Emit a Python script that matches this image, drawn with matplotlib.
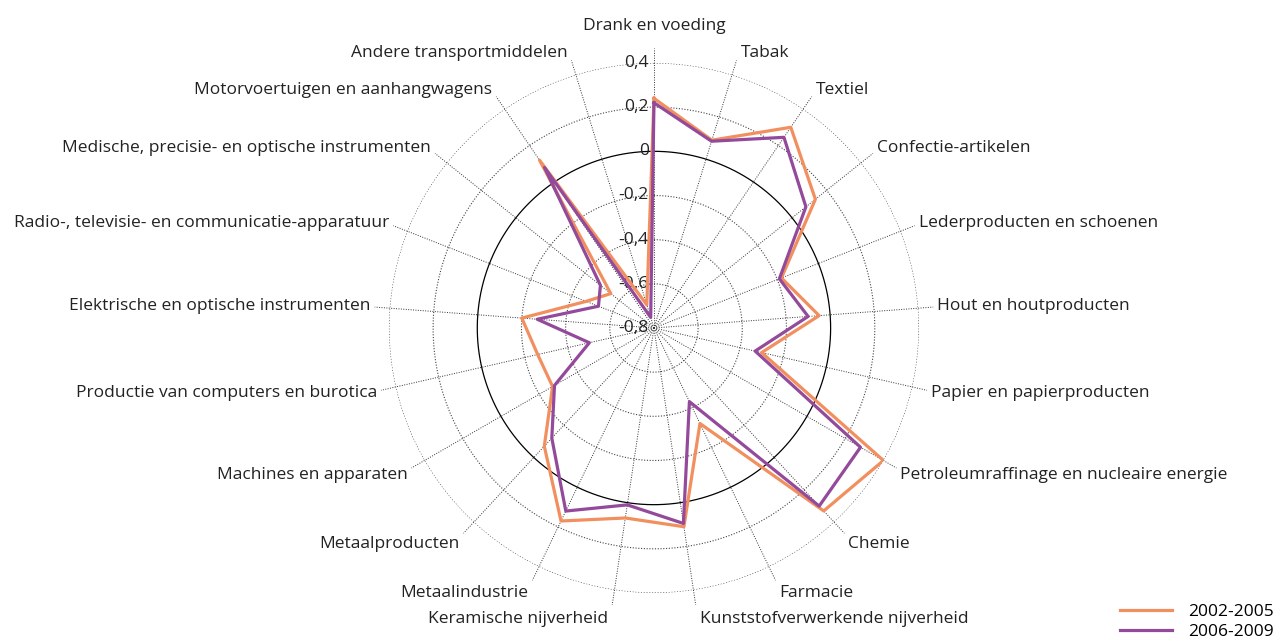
import numpy as np
import matplotlib
matplotlib.use('Agg')
import matplotlib.pyplot as plt

plt.rcParams['font.family'] = ['Open Sans', 'DejaVu Sans']

# categories, clockwise from the top
categories = [
    'Drank en voeding', 'Tabak', 'Textiel', 'Confectie-artikelen',
    'Lederproducten en schoenen', 'Hout en houtproducten',
    'Papier en papierproducten', 'Petroleumraffinage en nucleaire energie',
    'Chemie', 'Farmacie', 'Kunststofverwerkende nijverheid',
    'Keramische nijverheid', 'Metaalindustrie', 'Metaalproducten',
    'Machines en apparaten', 'Productie van computers en burotica',
    'Elektrische en optische instrumenten',
    'Radio-, televisie- en communicatie-apparatuur',
    'Medische, precisie- en optische instrumenten',
    'Motorvoertuigen en aanhangwagens', 'Andere transportmiddelen',
]

values_2002_2005 = [0.24, 0.09, 0.30, 0.135, -0.18, -0.05, -0.30, 0.40, 0.33, -0.32,
                    0.11, 0.07, 0.17, -0.07, -0.27, -0.26, -0.20, -0.47, -0.55, 0.12, -0.69]
values_2006_2009 = [0.22, 0.085, 0.245, 0.08, -0.19, -0.10, -0.33, 0.28, 0.30, -0.43,
                    0.095, 0.01, 0.12, -0.12, -0.28, -0.50, -0.27, -0.53, -0.49, 0.08, -0.75]

ring_values = [-0.8, -0.6, -0.4, -0.2, 0, 0.2, 0.4]
ring_labels = ['-0,8', '-0,6', '-0,4', '-0,2', '0', '0,2', '0,4']

orange = '#F28F5E'
purple = '#944A9B'
fs = 12.5

fig = plt.figure(figsize=(12.79, 6.42), dpi=100)
ax = fig.add_axes([0.3041, 0.0763, 0.4144, 0.8256], projection='polar')
ax.set_theta_zero_location('N')
ax.set_theta_direction(-1)
ax.set_ylim(-0.8, 0.4)
ax.set_xticks([])
ax.set_yticks([])
ax.grid(False)
ax.spines['polar'].set_visible(False)
ax.patch.set_alpha(0)

n = len(categories)
angles = np.arange(n) * 2 * np.pi / n

# rings
full = np.linspace(0, 2 * np.pi, 400)
for rv in ring_values[1:]:
    if rv == 0:
        ax.plot(full, np.full_like(full, rv), color='black', lw=0.9, zorder=1)
    else:
        ax.plot(full, np.full_like(full, rv), color='#444444', lw=0.8,
                linestyle=(0, (1, 1.5)), zorder=1)

# spokes, extending past the outer ring
spoke_end = 0.468
for a in angles:
    ax.plot([a, a], [-0.8, spoke_end], color='#333333', lw=0.7,
            linestyle=(0, (1, 1.5)), clip_on=False, zorder=1)

# ring labels
for rv, lab in zip(ring_values, ring_labels):
    ax.annotate(lab, xy=(0, rv), xytext=(-5, 0), textcoords='offset pixels',
                ha='right', va='center', fontsize=fs, color='#222222',
                annotation_clip=False)

# category labels
for a, lab in zip(angles, categories):
    s, c = np.sin(a), np.cos(a)
    if abs(s) < 0.05:
        ax.annotate(lab, xy=(a, spoke_end), xytext=(0, 14), textcoords='offset pixels',
                    ha='center', va='bottom', fontsize=fs, color='#222222',
                    annotation_clip=False)
        continue
    ha = 'left' if s > 0 else 'right'
    dx = 4 if s > 0 else -4
    dy = c * 8 if c > 0 else c * 14
    ax.annotate(lab, xy=(a, spoke_end), xytext=(dx, dy), textcoords='offset pixels',
                ha=ha, va='center', fontsize=fs, color='#222222',
                annotation_clip=False)

# series
ang_closed = np.append(angles, angles[0])
l1, = ax.plot(ang_closed, values_2002_2005 + values_2002_2005[:1], color=orange,
              lw=2.3, zorder=3, label='2002-2005')
l2, = ax.plot(ang_closed, values_2006_2009 + values_2006_2009[:1], color=purple,
              lw=2.3, zorder=4, label='2006-2009')

fig.legend(handles=[l1, l2], loc='lower right', bbox_to_anchor=(1.008, -0.022),
           frameon=False, fontsize=fs, handlelength=3.0, handletextpad=0.9,
           labelspacing=0.25)

fig.savefig('out.png', dpi=100)
